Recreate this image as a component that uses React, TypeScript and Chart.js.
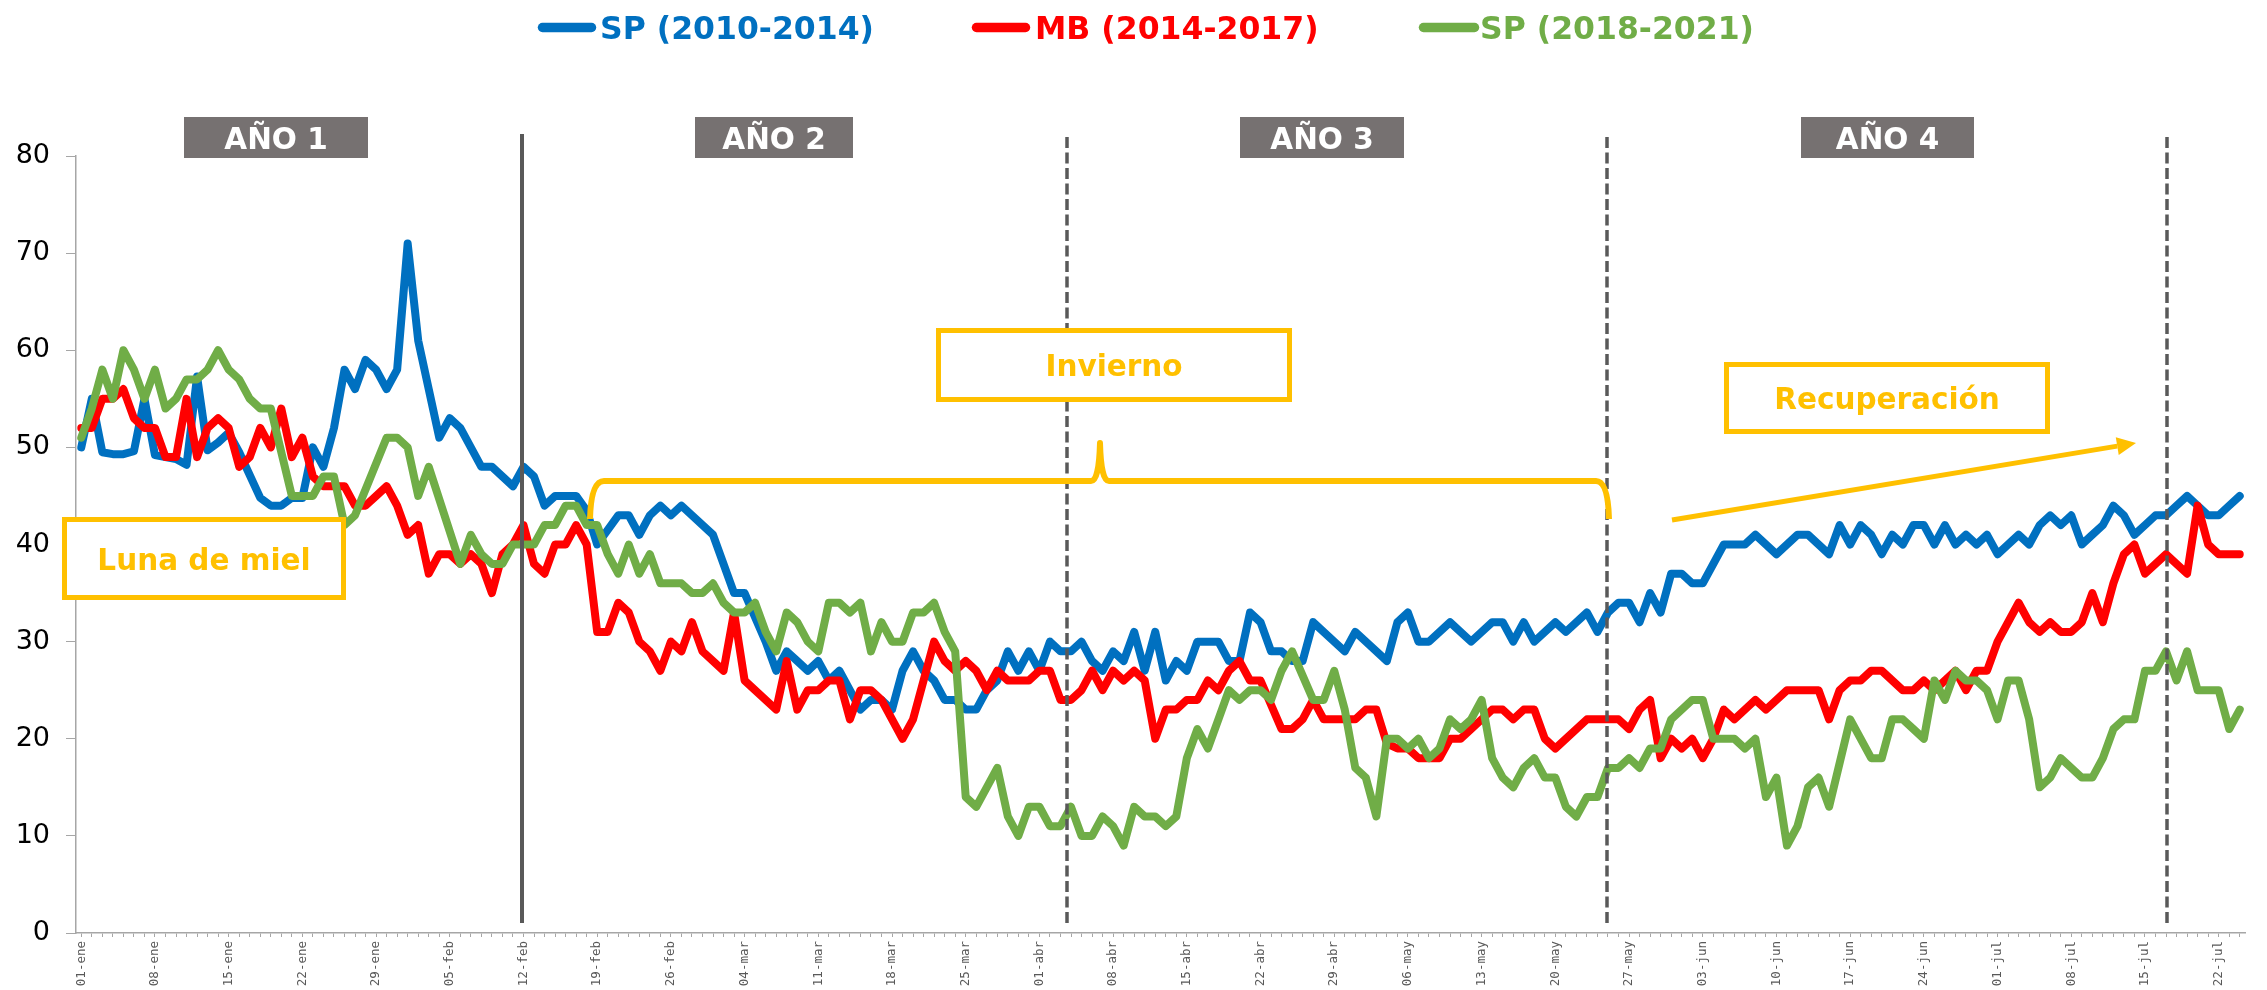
import { useEffect, useRef } from "react";
import { Chart, registerables } from "chart.js";

Chart.register(...registerables);

// ---------- categories (one per day, leap year, 01-ene ... 25-jul) ----------
const MONTHS = ["ene", "feb", "mar", "abr", "may", "jun", "jul"];
const MONTH_DAYS = [31, 29, 31, 30, 31, 30, 31];
const N_DAYS = 206;
const CATEGORIES: string[] = [];
for (let m = 0; m < MONTHS.length && CATEGORIES.length < N_DAYS; m++) {
  for (let d = 1; d <= MONTH_DAYS[m] && CATEGORIES.length < N_DAYS; d++) {
    CATEGORIES.push(String(d).padStart(2, "0") + "-" + MONTHS[m]);
  }
}
const LABEL_EVERY = 7;

const Y_MIN = 0;
const Y_MAX = 80;
const Y_STEP = 10;

const SERIES_NAMES = ["SP (2010-2014)", "MB (2014-2017)", "SP (2018-2021)"];

// ---------- series values ----------
const SP_2010_2014 = [
  50, 55, 49.5, 49.3, 49.3, 49.6, 55, 49.2, 49, 48.8,
  48.2, 57.3, 49.7, 50.5, 51.5, 49.5, null, 44.8, 44, 44,
  44.8, 44.8, 50, 48, 52, 58, 56, 59, 58, 56,
  58, 71, 61, 56, 51, 53, 52, 50, 48, 48,
  47, 46, 48, 47, 44, 45, 45, 45, 43.5, 40,
  null, 43, 43, 41, 43, 44, 43, 44, null, null,
  41, null, 35, 35, null, 30, 27, 29, 28, 27,
  28, 26, 27, 25, 23, 24, 24, 23, 27, 29,
  27, 26, 24, 24, 23, 23, 25, 26, 29, 27,
  29, 27, 30, 29, 29, 30, 28, 27, 29, 28,
  31, 27, 31, 26, 28, 27, 30, 30, 30, 28,
  28, 33, 32, 29, 29, 28, 28, 32, null, null,
  29, 31, null, null, 28, 32, 33, 30, 30, null,
  32, null, 30, null, 32, 32, 30, 32, 30, null,
  32, 31, null, 33, 31, 33, 34, 34, 32, 35,
  33, 37, 37, 36, 36, null, 40, null, 40, 41,
  null, 39, null, 41, 41, null, 39, 42, 40, 42,
  41, 39, 41, 40, 42, 42, 40, 42, 40, 41,
  40, 41, 39, 40, 41, 40, 42, 43, 42, 43,
  40, 41, 42, 44, 43, 41, 42, 43, 43, 44,
  45, 44, 43, 43, 44, 45,
];

const MB_2014_2017 = [
  52, 52, 55, 55, 56, 53, 52, 52, 49, 49,
  55, 49, 52, 53, 52, 48, 49, 52, 50, 54,
  49, 51, 47, 46, 46, 46, 44, 44, 45, 46,
  44, 41, 42, 37, 39, 39, 38, 39, 38, 35,
  39, 40, 42, 38, 37, 40, 40, 42, 40, 31,
  31, 34, 33, 30, 29, 27, 30, 29, 32, 29,
  null, 27, 33, 26, null, null, 23, 28, 23, 25,
  25, 26, 26, 22, 25, 25, 24, null, 20, 22,
  null, 30, 28, 27, 28, 27, 25, 27, 26, 26,
  26, 27, 27, 24, 24, 25, 27, 25, 27, 26,
  27, 26, 20, 23, 23, 24, 24, 26, 25, 27,
  28, 26, 26, null, 21, 21, 22, 24, 22, null,
  22, 22, 23, 23, 19.5, 19, 19, 18, null, 18,
  20, 20, null, 22, 23, 23, 22, 23, 23, 20,
  19, null, null, 22, null, null, 22, 21, 23, 24,
  18, 20, 19, 20, 18, 20, 23, 22, null, 24,
  23, null, 25, null, null, 25, 22, 25, 26, 26,
  27, 27, null, 25, 25, 26, 25, 26, 27, 25,
  27, 27, 30, null, 34, 32, 31, 32, 31, 31,
  32, 35, 32, 36, 39, 40, 37, null, 39, null,
  37, 44, 40, 39, null, 39,
];

const SP_2018_2021 = [
  51, 54, 58, 55, 60, 58, 55, 58, 54, 55,
  57, 57, 58, 60, 58, 57, 55, 54, 54, null,
  45, 45, 45, 47, 47, 42, 43, null, null, 51,
  51, 50, 45, 48, null, null, 38, 41, 39, 38,
  38, 40, 40, 40, 42, 42, 44, 44, 42, 42,
  39, 37, 40, 37, 39, 36, 36, 36, 35, 35,
  36, 34, 33, 33, 34, 31, 29, 33, 32, 30,
  29, 34, 34, 33, 34, 29, 32, 30, 30, 33,
  33, 34, 31, 29, 14, 13, 15, 17, 12, 10,
  13, 13, 11, 11, 13, 10, 10, 12, 11, 9,
  13, 12, 12, 11, 12, 18, 21, 19, 22, 25,
  24, 25, 25, 24, 27, 29, null, 24, 24, 27,
  23, 17, 16, 12, 20, 20, 19, 20, 18, 19,
  22, 21, 22, 24, 18, 16, 15, 17, 18, 16,
  16, 13, 12, 14, 14, 17, 17, 18, 17, 19,
  19, 22, 23, 24, 24, 20, 20, 20, 19, 20,
  14, 16, 9, 11, 15, 16, 13, null, 22, null,
  18, 18, 22, 22, 21, 20, 26, 24, 27, 26,
  26, 25, 22, 26, 26, 22, 15, 16, 18, 17,
  16, 16, 18, 21, 22, 22, 27, 27, 29, 26,
  29, 25, 25, 25, 21, 23,
];

const YEAR_LABELS = ["AÑO 1", "AÑO 2", "AÑO 3", "AÑO 4"];
const PHASE_LABELS = ["Luna de miel", "Invierno", "Recuperación"];

// ---------- styling / layout ----------
const COLORS = {
  sp1: "#0070C0",
  mb: "#FF0000",
  sp2: "#70AD47",
  accent: "#FFC000",
  yearBox: "#767171",
  marker: "#595959",
  axis: "#A6A6A6",
};
const SANS = "'DejaVu Sans', 'Noto Sans', sans-serif";

// event marker positions on the category axis (fractional index)
const EVENT_MARKERS = [
  { at: 41.9, dashed: false },
  { at: 93.6, dashed: true },
  { at: 144.9, dashed: true },
  { at: 198.1, dashed: true },
];
const YEAR_BOXES = [
  { x: 184, w: 184 },
  { x: 695, w: 158 },
  { x: 1240, w: 164 },
  { x: 1801, w: 173 },
];
const PHASE_BOXES = [
  { x: 62, y: 517, w: 284, h: 83 },
  { x: 936, y: 328, w: 356, h: 74 },
  { x: 1724, y: 362, w: 326, h: 72 },
];
const LEGEND_ITEMS = [
  { x0: 542.5, x1: 591.5, tx: 600 },
  { x0: 976.5, x1: 1025.5, tx: 1035 },
  { x0: 1423.5, x1: 1474.5, tx: 1480 },
];

const overlayPlugin = {
  id: "overlay",
  afterDatasetsDraw(chart: any) {
    const ctx: CanvasRenderingContext2D = chart.ctx;
    const xs = chart.scales.x;
    ctx.save();

    // event markers
    for (const ev of EVENT_MARKERS) {
      const px = Math.round(xs.getPixelForValue(ev.at));
      ctx.beginPath();
      ctx.setLineDash(ev.dashed ? [11, 4.5] : []);
      ctx.lineWidth = ev.dashed ? 3.5 : 4;
      ctx.strokeStyle = COLORS.marker;
      ctx.moveTo(px, ev.dashed ? 137 : 134);
      ctx.lineTo(px, 923);
      ctx.stroke();
    }
    ctx.setLineDash([]);

    // year boxes
    ctx.textAlign = "center";
    ctx.textBaseline = "alphabetic";
    YEAR_BOXES.forEach((b, i) => {
      ctx.fillStyle = COLORS.yearBox;
      ctx.fillRect(b.x, 117, b.w, 41);
      ctx.fillStyle = "#FFFFFF";
      ctx.font = `bold 29.5px ${SANS}`;
      ctx.fillText(YEAR_LABELS[i], b.x + b.w / 2, 148.5);
    });

    // phase boxes
    PHASE_BOXES.forEach((b, i) => {
      ctx.fillStyle = "#FFFFFF";
      ctx.fillRect(b.x, b.y, b.w, b.h);
      ctx.lineWidth = 5;
      ctx.strokeStyle = COLORS.accent;
      ctx.strokeRect(b.x + 2.5, b.y + 2.5, b.w - 5, b.h - 5);
      ctx.fillStyle = COLORS.accent;
      ctx.font = `bold 29.5px ${SANS}`;
      ctx.fillText(PHASE_LABELS[i], b.x + b.w / 2, b.y + b.h / 2 + 11);
    });

    // brace
    ctx.beginPath();
    ctx.lineWidth = 6;
    ctx.strokeStyle = COLORS.accent;
    ctx.lineJoin = "round";
    ctx.moveTo(590, 519);
    ctx.quadraticCurveTo(591, 481, 604, 481);
    ctx.lineTo(1091, 481);
    ctx.quadraticCurveTo(1099, 481, 1100, 443);
    ctx.quadraticCurveTo(1101, 481, 1109, 481);
    ctx.lineTo(1596, 481);
    ctx.quadraticCurveTo(1608, 481, 1609, 519);
    ctx.stroke();

    // arrow
    const ax0 = 1672, ay0 = 520, ax1 = 2136, ay1 = 443;
    const ang = Math.atan2(ay1 - ay0, ax1 - ax0);
    const headL = 19, headW = 9;
    const bx = ax1 - headL * Math.cos(ang);
    const by = ay1 - headL * Math.sin(ang);
    ctx.beginPath();
    ctx.lineWidth = 5;
    ctx.moveTo(ax0, ay0);
    ctx.lineTo(bx, by);
    ctx.stroke();
    ctx.beginPath();
    ctx.fillStyle = COLORS.accent;
    ctx.moveTo(ax1, ay1);
    ctx.lineTo(bx + headW * Math.sin(ang), by - headW * Math.cos(ang));
    ctx.lineTo(bx - headW * Math.sin(ang), by + headW * Math.cos(ang));
    ctx.closePath();
    ctx.fill();

    ctx.restore();
  },
  afterDraw(chart: any) {
    const ctx: CanvasRenderingContext2D = chart.ctx;
    ctx.save();
    const colors = [COLORS.sp1, COLORS.mb, COLORS.sp2];
    LEGEND_ITEMS.forEach((it, i) => {
      ctx.beginPath();
      ctx.lineCap = "round";
      ctx.lineWidth = 9.5;
      ctx.strokeStyle = colors[i];
      ctx.moveTo(it.x0, 27.5);
      ctx.lineTo(it.x1, 27.5);
      ctx.stroke();
      ctx.fillStyle = colors[i];
      ctx.font = `bold 31.5px ${SANS}`;
      ctx.textAlign = "left";
      ctx.textBaseline = "alphabetic";
      ctx.fillText(SERIES_NAMES[i], it.tx, 39);
    });
    ctx.restore();
  },
};

export default function App() {
  const canvasRef = useRef<HTMLCanvasElement | null>(null);

  useEffect(() => {
    if (!canvasRef.current) return;
    const lineStyle = {
      borderWidth: 8,
      pointRadius: 0,
      pointHoverRadius: 0,
      spanGaps: true,
      tension: 0,
      borderJoinStyle: "round" as const,
      borderCapStyle: "round" as const,
    };
    const chart = new Chart(canvasRef.current, {
      type: "line",
      data: {
        labels: CATEGORIES,
        datasets: [
          { label: SERIES_NAMES[0], data: SP_2010_2014, borderColor: COLORS.sp1, backgroundColor: COLORS.sp1, order: 3, ...lineStyle },
          { label: SERIES_NAMES[1], data: MB_2014_2017, borderColor: COLORS.mb, backgroundColor: COLORS.mb, order: 2, ...lineStyle },
          { label: SERIES_NAMES[2], data: SP_2018_2021, borderColor: COLORS.sp2, backgroundColor: COLORS.sp2, order: 1, ...lineStyle },
        ],
      },
      options: {
        animation: false,
        responsive: true,
        maintainAspectRatio: false,
        devicePixelRatio: 1,
        events: [],
        layout: { padding: { top: 156, right: 22, left: 0, bottom: 0 } },
        plugins: {
          legend: { display: false },
          tooltip: { enabled: false },
        },
        scales: {
          x: {
            type: "category",
            offset: true,
            grid: {
              display: true,
              drawOnChartArea: false,
              drawTicks: true,
              tickLength: 4,
              color: COLORS.axis,
              lineWidth: 1,
            },
            border: { display: true, color: COLORS.axis, width: 1.5 },
            ticks: {
              autoSkip: false,
              maxRotation: 90,
              minRotation: 90,
              padding: 4,
              color: "#595959",
              font: { family: "'DejaVu Sans Mono', 'Liberation Mono', monospace", size: 12.5 },
              callback: (_v: any, i: number) => (i % LABEL_EVERY === 0 ? CATEGORIES[i] : ""),
            },
            afterFit: (s: any) => {
              s.height = 57;
            },
          },
          y: {
            min: Y_MIN,
            max: Y_MAX,
            grid: {
              display: true,
              drawOnChartArea: false,
              drawTicks: true,
              tickLength: 10,
              color: COLORS.axis,
            },
            border: { display: true, color: COLORS.axis, width: 1.5 },
            ticks: {
              stepSize: Y_STEP,
              padding: 16,
              color: "#000000",
              font: { family: SANS, size: 27 },
            },
            afterFit: (s: any) => {
              s.width = 76;
            },
          },
        },
      },
      plugins: [overlayPlugin],
    } as any);
    return () => chart.destroy();
  }, []);

  return (
    <div style={{ position: "absolute", left: 0, top: 0, width: 2267, height: 990, background: "#FFFFFF" }}>
      <canvas ref={canvasRef} />
    </div>
  );
}
